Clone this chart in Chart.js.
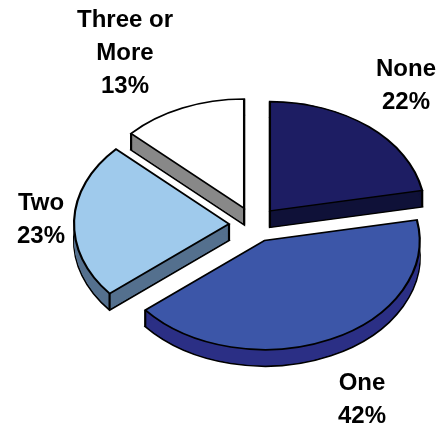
<!DOCTYPE html>
<html>
<head>
<meta charset="utf-8">
<style>html,body{margin:0;padding:0;background:#fff}canvas{display:block}</style>
<script src="https://cdn.jsdelivr.net/npm/chart.js@4"></script>
</head>
<body>
<canvas id="c" width="442" height="426" style="width:442px;height:426px"></canvas>
<script>
const categories = ['None', 'One', 'Two', 'Three or More'];
const values = [22, 42, 23, 13];
const topColors = ['#1D1D63', '#3C56A8', '#9FCAEC', '#FFFFFF'];
const sideColors = ['#0F1138', '#2B2F85', '#54708E', '#888888'];
const labelLines = [['None'], ['One'], ['Two'], ['Three or', 'More']];
const labelAnchors = [[406, 69], [362, 383], [41, 203], [125, 20]];

const SQUASH = 0.705, DEPTH = 16.5 / SQUASH, EXPLODE = 25;

const tilt = {
  id: 'tilt',
  beforeDatasetDraw(chart, args) {
    const ctx = chart.ctx, arcs = args.meta.data;
    const cx = arcs[0].x, cy = arcs[0].y;
    ctx.save();
    ctx.translate(cx, cy); ctx.scale(1, SQUASH); ctx.translate(-cx, -cy);
    arcs.forEach((arc, i) => {
      const base = arc.options;
      const mid = (arc.startAngle + arc.endAngle) / 2;
      const dx = Math.cos(mid) * EXPLODE, dy = Math.sin(mid) * EXPLODE;
      ctx.save();
      ctx.translate(dx, dy);
      // lower rim with outline
      ctx.save(); ctx.translate(0, DEPTH);
      const bottom = Object.create(base);
      bottom.backgroundColor = sideColors[i];
      arc.options = bottom; arc.draw(ctx);
      ctx.restore();
      // wall
      const sweep = Object.create(base);
      sweep.backgroundColor = sideColors[i];
      sweep.borderColor = sideColors[i];
      sweep.borderWidth = 0;
      arc.options = sweep;
      for (let d = 0; d < DEPTH - 1; d++) {
        ctx.save(); ctx.translate(0, d); arc.draw(ctx); ctx.restore();
      }
      arc.options = base;
      // vertical edges
      const corners = [[arc.x, arc.y]];
      [arc.startAngle, arc.endAngle].forEach(a => corners.push([arc.x + Math.cos(a) * arc.outerRadius, arc.y + Math.sin(a) * arc.outerRadius]));
      ctx.strokeStyle = '#000'; ctx.lineWidth = 2.2;
      corners.forEach(p => { ctx.beginPath(); ctx.moveTo(p[0], p[1]); ctx.lineTo(p[0], p[1] + DEPTH); ctx.stroke(); });
      // top face
      arc.draw(ctx);
      ctx.restore();
    });
    ctx.restore();
    return false;
  },
  afterDraw(chart) {
    const ctx = chart.ctx;
    ctx.save();
    ctx.font = 'bold 24px "Liberation Sans", Arial, sans-serif';
    ctx.fillStyle = '#000'; ctx.textAlign = 'center'; ctx.textBaseline = 'middle';
    labelLines.forEach((lines, i) => {
      const all = lines.concat([values[i] + '%']);
      all.forEach((t, k) => ctx.fillText(t, labelAnchors[i][0], labelAnchors[i][1] + k * 33));
    });
    ctx.restore();
  }
};

new Chart(document.getElementById('c'), {
  type: 'pie',
  data: {
    labels: categories,
    datasets: [{
      data: values,
      backgroundColor: topColors,
      borderColor: '#000',
      borderWidth: 2.2,
      borderJoinStyle: 'miter'
    }]
  },
  plugins: [tilt],
  options: {
    responsive: false,
    animation: false,
    events: [],
    radius: 155,
    layout: { padding: { left: 66, top: 23 } },
    plugins: { legend: { display: false }, tooltip: { enabled: false } }
  }
});
</script>
</body>
</html>
